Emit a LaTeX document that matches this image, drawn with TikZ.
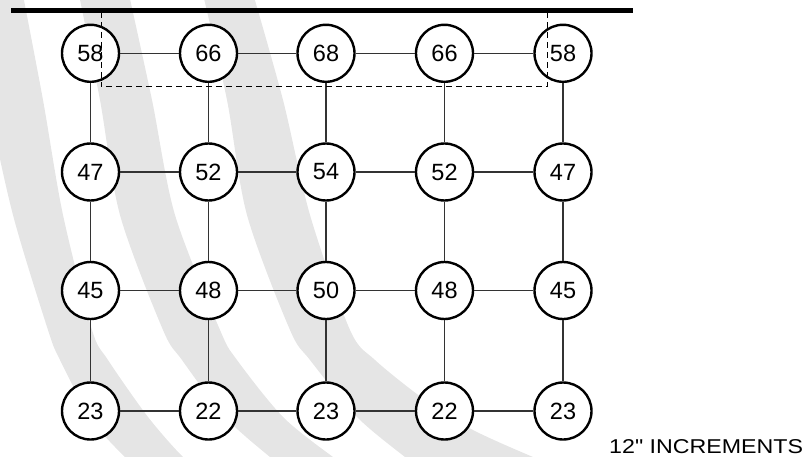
\documentclass[tikz,border=0pt]{standalone}
\usepackage{graphicx}
\usepackage{fontspec}
\setmainfont{Liberation Sans}
\newfontfamily\lblfont{Liberation Sans}
\begin{document}
\begin{tikzpicture}[x=1pt,y=-1pt,
  num/.style={circle, draw=black, line width=2.4pt, fill=white, minimum size=57pt, inner sep=0pt, font=\fontsize{23.5}{23.5}\selectfont},
  link/.style={line width=1.3pt, draw=black!80},
  band/.style={fill=black!10},
  guide/.style={dash pattern=on 6pt off 4pt, line width=1pt, draw=black},
  rail/.style={line width=5pt, draw=black}]
\useasboundingbox (0,0) rectangle (805,457);
\begin{scope}
\clip (0,0) rectangle (805,457);
\fill[band] plot[smooth] coordinates {(-30,-10) (-12,100) (13,215) (48,330) (60,360) (92,420) (125,457) (140,467)}
  -- plot[smooth] coordinates {(200,467) (183,457) (148,417) (108,360) (92,330) (63,215) (43,100) (22,-10)} -- cycle;
\fill[band] plot[smooth] coordinates {(78,-10) (100,100) (120,215) (163,330) (182,360) (225,417) (270,457) (285,467)}
  -- plot[smooth] coordinates {(350,467) (333,457) (283,417) (237,360) (220,330) (175,215) (152,100) (128,-10)} -- cycle;
\fill[band] plot[smooth] coordinates {(202,-10) (227,100) (247,215) (290,330) (310,360) (357,417) (405,457) (420,467)}
  -- plot[smooth] coordinates {(560,467) (533,457) (473,430) (425,400) (375,360) (350,330) (310,215) (283,100) (252,-10)} -- cycle;
\end{scope}

% nodes
\node[num] (c11) at (90.5,53.3) {58};
\node[num] (c12) at (208.5,53.3) {66};
\node[num] (c13) at (326,53.3) {68};
\node[num] (c14) at (444.5,53.3) {66};
\node[num] (c15) at (563,53.3) {58};
\node[num] (c21) at (90.5,172) {47};
\node[num] (c22) at (208.5,172) {52};
\node[num] (c23) at (326,172) {54};
\node[num] (c24) at (444.5,172) {52};
\node[num] (c25) at (563,172) {47};
\node[num] (c31) at (90.5,290.5) {45};
\node[num] (c32) at (208.5,290.5) {48};
\node[num] (c33) at (326,290.5) {50};
\node[num] (c34) at (444.5,290.5) {48};
\node[num] (c35) at (563,290.5) {45};
\node[num] (c41) at (90.5,411) {23};
\node[num] (c42) at (208.5,411) {22};
\node[num] (c43) at (326,411) {23};
\node[num] (c44) at (444.5,411) {22};
\node[num] (c45) at (563,411) {23};

% links
\foreach \r in {1,2,3,4}{
  \foreach \a/\b in {1/2,2/3,3/4,4/5}{
    \draw[link] (c\r\a) -- (c\r\b);
  }
}
\foreach \c in {1,2,3,4,5}{
  \foreach \a/\b in {1/2,2/3,3/4}{
    \draw[link] (c\a\c) -- (c\b\c);
  }
}

% dashed guide
\coordinate (d1) at (101,12);
\coordinate (d2) at (101,87);
\coordinate (d3) at (547,87);
\coordinate (d4) at (547,12);
\draw[guide] (d1) -- (d2) -- (d3) -- (d4);

% top rail
\coordinate (t1) at (11,11);
\coordinate (t2) at (633,11);
\draw[rail] (t1) -- (t2);

% label
\node[anchor=base west, inner sep=0pt, font=\lblfont\fontsize{20}{20}\selectfont] (lbl) at (609,453.5) {\scalebox{1.16}[1]{12" INCREMENTS}};
\end{tikzpicture}
\end{document}
